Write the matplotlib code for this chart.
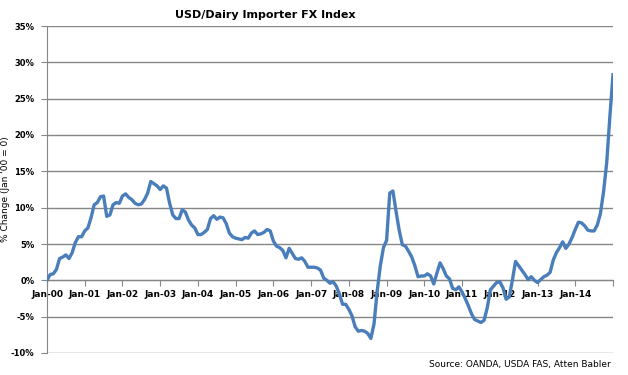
import matplotlib
matplotlib.use("Agg")
import matplotlib.pyplot as plt
from matplotlib.ticker import FuncFormatter

# monthly % change vs Jan-00, Jan-00 .. Jan-15
fx_index = [
    0.0, 0.8, 0.9, 1.5, 3.0, 3.2, 3.5, 3.0, 3.8, 5.2, 6.0, 6.0,            # 2000
    6.8, 7.2, 8.6, 10.4, 10.7, 11.5, 11.6, 8.8, 9.0, 10.4, 10.7, 10.6,     # 2001
    11.6, 11.9, 11.4, 11.1, 10.6, 10.4, 10.5, 11.1, 12.0, 13.6, 13.3, 13.0,  # 2002
    12.5, 13.0, 12.7, 10.6, 9.0, 8.5, 8.5, 9.7, 9.4, 8.3, 7.6, 7.2,        # 2003
    6.3, 6.3, 6.6, 7.0, 8.5, 8.9, 8.4, 8.7, 8.6, 7.8, 6.5, 6.0,            # 2004
    5.8, 5.7, 5.6, 5.9, 5.8, 6.5, 6.8, 6.3, 6.4, 6.6, 7.0, 6.8,            # 2005
    5.4, 4.7, 4.5, 4.1, 3.1, 4.4, 3.7, 3.0, 2.9, 3.1, 2.6, 1.8,            # 2006
    1.8, 1.8, 1.7, 1.4, 0.3, 0.0, -0.4, -0.2, -0.8, -1.9, -3.3, -3.3,      # 2007
    -4.0, -4.9, -6.4, -7.0, -6.9, -7.0, -7.3, -8.0, -6.0, -1.5, 2.0, 4.5,  # 2008
    5.5, 12.0, 12.3, 9.5, 6.9, 4.9, 4.7, 4.0, 3.2, 2.0, 0.5, 0.6,          # 2009
    0.6, 0.9, 0.6, -0.5, 1.0, 2.4, 1.6, 0.6, 0.2, -1.1, -1.3, -0.9,        # 2010
    -1.6, -2.5, -3.5, -4.6, -5.4, -5.6, -5.8, -5.5, -3.8, -1.3, -0.8, -0.3,  # 2011
    -0.2, -1.0, -2.6, -2.3, 0.0, 2.6, 2.0, 1.4, 0.8, 0.1, 0.5, 0.0,        # 2012
    -0.3, 0.1, 0.5, 0.7, 1.1, 2.8, 3.8, 4.5, 5.3, 4.4, 5.0, 5.9,           # 2013
    7.0, 8.0, 7.9, 7.5, 6.9, 6.8, 6.8, 7.6, 9.2, 12.2, 16.2, 22.5,         # 2014
    28.3,                                                                  # 2015
]
year_labels = ["Jan-%02d" % y for y in range(0, 15)]

grid_col = "#868686"
line_col = "#4a7ebb"

fig = plt.figure(figsize=(6.28, 3.75), dpi=100)
ax = fig.add_axes([47 / 628, 22 / 375, 566 / 628, 327 / 375])

months = list(range(len(fx_index)))
ax.plot(months, fx_index, color=line_col, linewidth=2.4, solid_joinstyle="round", zorder=3)

ax.set_xlim(0, 180)
ax.set_ylim(-10, 35)
ax.set_yticks(range(-10, 36, 5))
ax.yaxis.set_major_formatter(FuncFormatter(lambda v, p: "%d%%" % v))
ax.set_xticks(range(0, 181, 12))
ax.set_xticklabels(year_labels + [""])

ax.grid(axis="y", color=grid_col, linewidth=1.0)
ax.set_axisbelow(True)
for side in ["top", "right"]:
    ax.spines[side].set_visible(False)
ax.spines["bottom"].set_position(("data", 0))
ax.spines["bottom"].set_color(grid_col)
ax.spines["left"].set_color(grid_col)
ax.spines["bottom"].set_zorder(2)

ax.tick_params(axis="x", direction="out", length=4, color=grid_col, pad=3,
               labelsize=6.5)
ax.tick_params(axis="y", direction="out", length=4, color=grid_col, pad=5,
               labelsize=6)
for lab in ax.get_xticklabels() + ax.get_yticklabels():
    lab.set_fontweight("bold")

ax.set_ylabel("% Change (Jan '00 = 0)", fontsize=6.5)
ax.yaxis.set_label_coords(-37 / 566, 0.5)

fig.text(265 / 628, 1 - 15 / 375, "USD/Dairy Importer FX Index", ha="center", va="center",
         fontsize=8, fontweight="bold")
fig.text(611 / 628, 1 - 365 / 375, "Source: OANDA, USDA FAS, Atten Babler", ha="right",
         va="center", fontsize=6.5)

fig.savefig("out.png", dpi=100)
